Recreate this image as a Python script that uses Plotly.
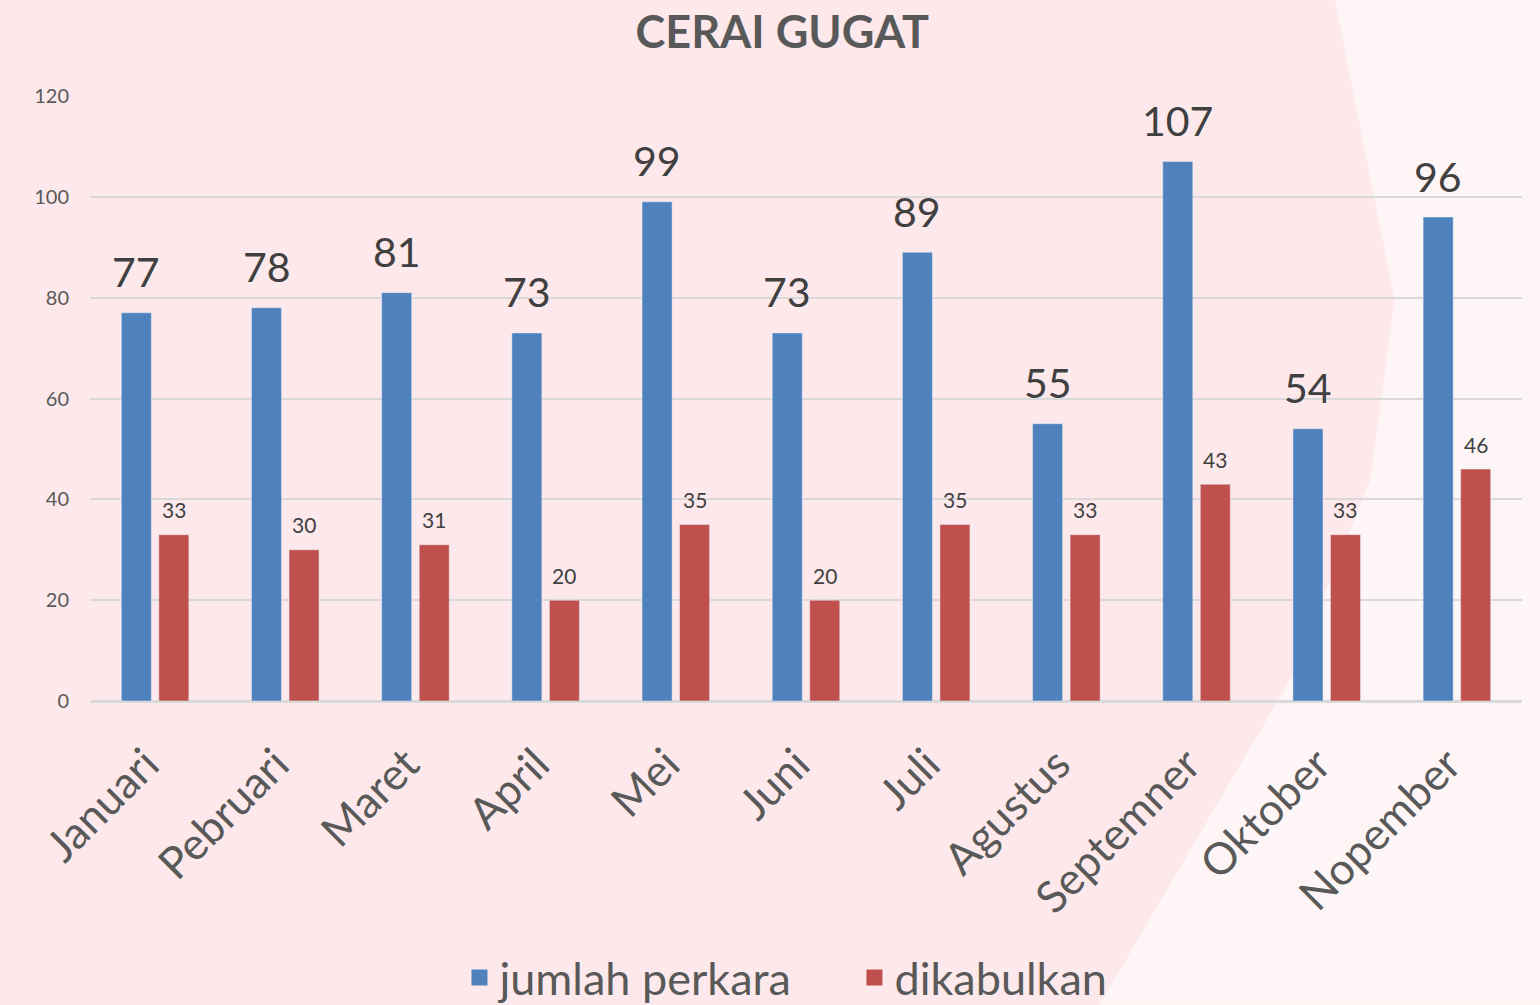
import plotly.graph_objects as go

# Data for the chart
bulan = ["Januari", "Pebruari", "Maret", "April", "Mei", "Juni", "Juli",
         "Agustus", "Septemner", "Oktober", "Nopember"]
jumlah_perkara = [77, 78, 81, 73, 99, 73, 89, 55, 107, 54, 96]
dikabulkan = [33, 30, 31, 20, 35, 20, 35, 33, 43, 33, 46]

font_name = "Lato, Open Sans, sans-serif"
biru = "#4f81bd"
merah = "#c0504d"

fig = go.Figure()

fig.add_trace(go.Bar(
    x=bulan, y=jumlah_perkara, name="jumlah perkara",
    marker=dict(color=biru), showlegend=False
))
fig.add_trace(go.Bar(
    x=bulan, y=dikabulkan, name="dikabulkan",
    marker=dict(color=merah), showlegend=False
))

# data labels placed a bit above the bars (like Excel)
for b, v in zip(bulan, jumlah_perkara):
    fig.add_annotation(x=b, y=v, text=str(v), showarrow=False,
                       xshift=-18.75, yshift=41, yanchor="middle",
                       font=dict(size=41, color="#404040"))
for b, v in zip(bulan, dikabulkan):
    fig.add_annotation(x=b, y=v, text=str(v), showarrow=False,
                       xshift=18.75, yshift=25, yanchor="middle",
                       font=dict(size=21, color="#404040"))

# legend entries with square markers
for nama, warna in [("jumlah perkara", biru), ("dikabulkan", merah)]:
    fig.add_trace(go.Scatter(
        x=[None], y=[None], mode="markers", name=nama,
        marker=dict(symbol="square", size=28, color=warna)
    ))

# lighter pink area on the right side of the background
fig.add_shape(
    type="path", xref="paper", yref="paper", layer="below",
    path="M 0.866 1.2 L 0.911 0.663 L 0.894 0.365 L 0.838 0.035 L 0.705 -0.502 L 1.02 -0.502 L 1.02 1.2 Z",
    fillcolor="#fef5f6", line=dict(width=0)
)

fig.update_layout(
    title=dict(text="<b>CERAI GUGAT</b>", x=0.508, xanchor="center",
               yref="container", y=0.968, yanchor="middle",
               font=dict(size=45, color="#595959", family=font_name)),
    barmode="group",
    bargap=0.4235,
    bargroupgap=0.2,
    paper_bgcolor="#fde9eb",
    plot_bgcolor="rgba(0,0,0,0)",
    width=1540, height=1005,
    margin=dict(l=90, r=18, t=96, b=304),
    font=dict(family=font_name, color="#595959"),
    showlegend=True,
    legend=dict(orientation="h", x=0.258, xanchor="left",
                yref="container", y=0.027, yanchor="middle",
                bgcolor="rgba(0,0,0,0)",
                font=dict(size=45, color="#595959"),
                entrywidth=350, itemsizing="trace", traceorder="normal"),
)

fig.update_xaxes(
    tickangle=-45,
    tickfont=dict(size=44, color="#595959"),
    showgrid=False, showline=True, linecolor="#d9d9d9", linewidth=2,
    ticklabelstandoff=18, ticklabelshift=-9
)

fig.update_yaxes(
    range=[0, 120], dtick=20,
    tickfont=dict(size=20, color="#595959"),
    showgrid=True, gridcolor="#d9d9d9", gridwidth=2,
    zeroline=True, zerolinecolor="#d9d9d9", zerolinewidth=2,
    ticklabelstandoff=20
)

fig.write_html("out.html", config={"displayModeBar": False},
               post_script="document.body.style.margin='0';")
